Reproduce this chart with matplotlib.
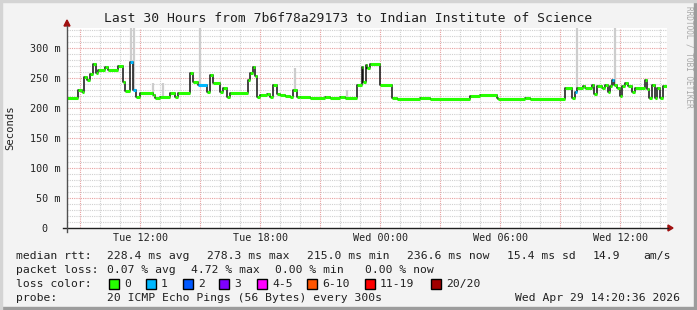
import numpy as np
import matplotlib
matplotlib.use('Agg')
import matplotlib.pyplot as plt
from matplotlib.patches import Rectangle, Polygon

plt.rcParams['font.family'] = ['DejaVu Sans Mono']

# step changes of the median rtt, hours since Tue 00:00, value in ms
step_hours = [8.33, 8.88, 9.08, 9.18, 9.33, 9.48, 9.63, 9.78, 9.88, 10.23, 10.38, 10.88,
              11.13, 11.23, 11.48, 11.63, 11.78, 11.98, 12.63, 12.73, 12.98, 13.48, 13.73,
              13.88, 14.48, 14.63, 14.88, 15.33, 15.48, 15.63, 15.98, 16.13, 16.33, 16.48,
              17.38, 17.48, 17.63, 17.73, 17.83, 17.98, 18.33, 18.48, 18.63, 18.83, 18.98,
              19.23, 19.48, 19.63, 19.83, 19.98, 20.48, 21.23, 21.48, 21.98, 22.23, 22.83,
              23.08, 23.13, 23.28, 23.33, 23.48, 23.98, 24.58, 24.83, 25.98, 26.48, 28.48,
              28.98, 29.83, 29.88, 31.23, 31.48, 33.23, 33.58, 33.73, 33.83, 34.13, 34.23,
              34.58, 34.68, 34.83, 35.08, 35.23, 35.38, 35.48, 35.58, 35.68, 35.83, 35.98,
              36.08, 36.23, 36.38, 36.58, 36.73, 37.23, 37.33, 37.43, 37.58, 37.73, 37.83,
              37.98, 38.13]
median_ms = [216, 230, 227, 252, 247, 257, 273, 258, 263, 269, 263, 270,
             244, 229, 277, 230, 219, 225, 222, 216, 218, 225, 218,
             225, 259, 244, 238, 227, 255, 241, 227, 233, 218, 225,
             247, 258, 268, 253, 219, 222, 224, 219, 238, 224, 222,
             220, 218, 230, 219, 218, 217, 219, 217, 218, 216, 238,
             269, 243, 272, 266, 274, 238, 216, 215, 216, 215, 220,
             222, 217, 215, 216, 215, 233, 217, 227, 234, 237, 233,
             238, 223, 237, 233, 238, 227, 236, 246, 238, 233, 220,
             236, 241, 236, 227, 234, 246, 231, 217, 238, 217, 233,
             217, 236]
lost_pings = [0] * len(median_ms)
for i in (14, 15, 26, 74, 85):
    lost_pings[i] = 1
end_hour = 38.33

# spread of the pings (smoke) where it sticks out
smoke_hours = [11.53, 11.68, 12.63, 13.13, 14.98, 19.73, 22.33, 33.83, 35.73]
smoke_top_ms = [334, 334, 242, 242, 334, 267, 230, 334, 334]

loss_labels = ['0', '1', '2', '3', '4-5', '6-10', '11-19', '20/20']
loss_colors = ['#26ff00', '#00b8ff', '#0059ff', '#7e00ff', '#ff00ff', '#ff5500', '#ff0000', '#a10000']

tick_hours = [12, 18, 24, 30, 36]
tick_labels = ['Tue 12:00', 'Tue 18:00', 'Wed 00:00', 'Wed 06:00', 'Wed 12:00']
y_ticks = [0, 50, 100, 150, 200, 250, 300]

W, H = 697, 310
fig = plt.figure(figsize=(W / 100, H / 100), dpi=100)
fig.patch.set_facecolor('#f3f3f3')

def fx(x):
    return x / W

def fy(y):
    return 1 - y / H

# frame shading
fig.patches.append(Rectangle((fx(694), 0), fx(3), 1, transform=fig.transFigure, color='#9c9c9c', zorder=0))
fig.patches.append(Rectangle((0, 0), 1, 3 / H, transform=fig.transFigure, color='#9c9c9c', zorder=0))
fig.patches.append(Rectangle((0, 0), fx(2), 1, transform=fig.transFigure, color='#d4d4d4', zorder=0))
fig.patches.append(Rectangle((0, fy(2)), 1, 2 / H, transform=fig.transFigure, color='#d4d4d4', zorder=0))

x0, x1, ytop, ybot = 67, 667, 28, 228
ax = fig.add_axes([fx(x0), fy(ybot), fx(x1 - x0), (ybot - ytop) / H])
ax.set_xlim(8.333, end_hour)
ax.set_ylim(0, 333.3)
ax.set_facecolor('white')
for s in ax.spines.values():
    s.set_visible(False)

# grid
for h in np.arange(9, 39, 1):
    major = h % 3 == 0
    ax.axvline(h, color='#e8a0a0' if major else '#d0d0d0', lw=0.8,
               linestyle=(0, (1, 1)), zorder=1)
for v in range(10, 334, 10):
    major = v % 50 == 0
    ax.axhline(v, color='#e8a0a0' if major else '#d0d0d0', lw=0.8,
               linestyle=(0, (1, 1)), zorder=1 if not major else 1.5)

# smoke
for h, top in zip(smoke_hours, smoke_top_ms):
    i = np.searchsorted(step_hours, h, side='right') - 1
    ax.vlines(h, median_ms[i], top, color='#cdcdcd', lw=1.6, zorder=2)

# median line: black steps, colored flats
edges = step_hours + [end_hour]
ax.step(edges, median_ms + [median_ms[-1]], where='post', color='#111111', lw=1.1, zorder=3)
for i, v in enumerate(median_ms):
    ax.hlines(v, edges[i], edges[i + 1], color=loss_colors[lost_pings[i]], lw=2.2, zorder=4,
              capstyle='butt')

ax.set_yticks(y_ticks, labels=['0  '] + ['%d m' % v for v in y_ticks[1:]])
ax.set_xticks(tick_hours, labels=tick_labels)
ax.tick_params(axis='both', length=0, labelsize=7.3, colors='#222222')
ax.tick_params(axis='y', pad=4.5)
ax.tick_params(axis='x', pad=3.5)

# axes with arrows
fig.add_artist(plt.Line2D([fx(63), fx(668)], [fy(228), fy(228)], color='#202020', lw=1))
fig.add_artist(plt.Line2D([fx(67), fx(67)], [fy(232), fy(26)], color='#505050', lw=1))
fig.patches.append(Polygon([(fx(668), fy(225)), (fx(668), fy(231)), (fx(673), fy(228))],
                           transform=fig.transFigure, color='#a01010'))
fig.patches.append(Polygon([(fx(64), fy(26)), (fx(70), fy(26)), (fx(67), fy(20))],
                           transform=fig.transFigure, color='#a01010'))

fig.text(fx(348), fy(18), 'Last 30 Hours from 7b6f78a29173 to Indian Institute of Science',
         ha='center', va='center', fontsize=9.4, color='#202020')
fig.text(fx(10), fy(128), 'Seconds', rotation=90, ha='center', va='center', fontsize=7.6, color='#202020')
fig.text(fx(689), fy(6), 'RRDTOOL / TOBI OETIKER', rotation=270, ha='center', va='top',
         fontsize=5.6, color='#a8a8a8')

fs = 8.2
tc = '#202020'
def line(x, y, s, ha='left'):
    fig.text(fx(x), fy(y), s, ha=ha, va='center', fontsize=fs, color=tc)

line(16, 256, 'median rtt:')
for x, s in zip([107, 207, 307, 407, 507, 593, 643],
                ['228.4 ms avg', '278.3 ms max', '215.0 ms min', '236.6 ms now', '15.4 ms sd',
                 '14.9', 'am/s']):
    line(x, 256, s)
line(16, 270, 'packet loss:')
for x, s in zip([107, 191, 275, 365], ['0.07 % avg', '4.72 % max', '0.00 % min', '0.00 % now']):
    line(x, 270, s)
line(16, 284, 'loss color:')
for x, lab, c in zip([109, 146, 183, 219, 257, 307, 365, 431], loss_labels, loss_colors):
    fig.patches.append(Rectangle((fx(x), fy(289)), fx(10), 10 / H, transform=fig.transFigure,
                                 facecolor=c, edgecolor='black', lw=1))
    line(x + 15, 284, lab)
line(16, 298, 'probe:')
line(107, 298, '20 ICMP Echo Pings (56 Bytes) every 300s')
line(680, 298, 'Wed Apr 29 14:20:36 2026', ha='right')

fig.savefig('out.png', dpi=100, facecolor=fig.get_facecolor())
